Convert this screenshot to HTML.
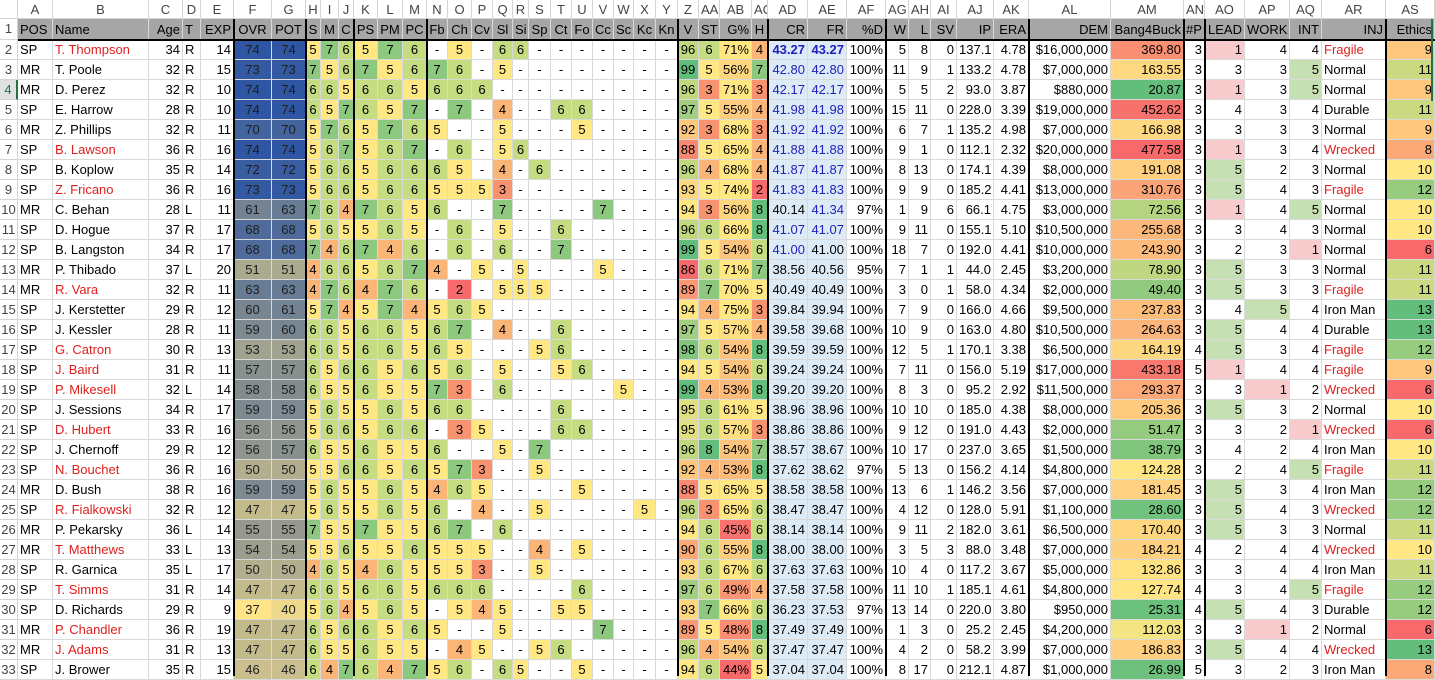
<!DOCTYPE html>
<html><head><meta charset="utf-8">
<style>
body{margin:0;width:1435px;height:676px;overflow:hidden;background:#fff;font-family:"Liberation Sans",sans-serif;font-size:13px;color:#000;position:relative}
.c{position:absolute;box-sizing:border-box;height:20px;line-height:20px;border-right:1px solid #d9d9d9;border-bottom:1px solid #d9d9d9;padding:0 2px;white-space:nowrap;overflow:hidden}
.h{color:#444;text-align:center;background:#fff;border-color:#d4d4d4;height:19px;line-height:19px}
.rh{color:#444;text-align:center;background:#fff;border-color:#d4d4d4;padding:0}
.t{background:#a6a6a6}
.tk{position:absolute;background:#000}
</style></head><body>
<div id="grid"></div>
<script>
const POS=["SP","MR","MR","SP","MR","SP","SP","SP","MR","SP","SP","MR","MR","SP","SP","SP","SP","SP","SP","SP","SP","SP","MR","SP","MR","MR","SP","SP","SP","MR","MR","SP"];
const NAMES=["T. Thompson","T. Poole","D. Perez","E. Harrow","Z. Phillips","B. Lawson","B. Koplow","Z. Fricano","C. Behan","D. Hogue","B. Langston","P. Thibado","R. Vara","J. Kerstetter","J. Kessler","G. Catron","J. Baird","P. Mikesell","J. Sessions","D. Hubert","J. Chernoff","N. Bouchet","D. Bush","R. Fialkowski","P. Pekarsky","T. Matthews","R. Garnica","T. Simms","D. Richards","P. Chandler","J. Adams","J. Brower"];
const RED=[1,0,0,0,0,1,0,1,0,0,0,0,1,0,0,1,1,1,0,1,0,1,0,1,0,1,0,1,0,1,1,0];
const AGE=[34,32,32,28,32,36,35,36,28,37,34,37,32,29,28,30,31,32,34,33,29,36,38,32,36,33,35,31,29,36,31,35];
const THR=["R","R","R","R","R","R","R","R","L","R","R","L","R","R","R","R","R","L","R","R","R","R","R","R","L","L","L","R","R","R","R","R"];
const EXP=[14,15,10,10,11,16,14,16,11,17,17,20,11,12,11,13,11,14,17,16,12,16,16,12,14,13,17,14,9,19,13,15];
const OVR=[74,73,74,74,70,74,72,73,61,68,68,51,63,60,59,53,57,58,59,56,56,50,59,47,55,54,50,47,37,47,47,46];
const POT=[74,73,74,74,70,74,72,73,63,68,68,51,63,61,60,53,57,58,59,56,57,50,59,47,55,54,50,47,40,47,47,46];
const RATINGS=["576576","756756","665665","657657","576576","567567","566566","566566","764765","565565","746746","466567","476476","574574","665665","665665","656656","655655","565565","566566","655655","556656","565565","565565","755755","556556","465465","665665","564565","656656","655655","647647"];
const PITCHES=["-5-66-------","76-5--------","666---------","-7-4--66----","5--5---5----","-6-56-------","65-4-6------","5553--------","6--7----7---","-6-5--6-----","-6-6--7-----","4-5-5---5---","-2-555------","565---------","67-4--6-----","65---56-----","56-5--56----","73-6-----5--","66----6-----","-35---66----","6--5-7------","573--5------","465----5----","6-4--5----5-","67-6--------","555--4-5----","553--5------","666----6----","-545--55----","5--5----7---","-45--56-----","56-65--5----"];
const VEL=[96,99,96,97,92,88,96,93,94,96,99,86,89,94,97,98,94,99,95,95,96,92,88,96,94,90,93,97,93,89,96,94];
const ST=[6,5,3,5,3,5,4,5,3,6,5,6,7,4,5,6,5,4,6,6,8,4,5,3,6,6,6,6,7,5,4,6];
const GPCT=[71,56,71,55,68,65,68,74,56,66,54,71,70,75,57,54,54,53,61,57,54,53,65,65,45,55,67,49,66,48,54,44];
const HLD=[4,7,3,4,3,4,4,2,8,8,6,7,5,3,4,8,6,8,5,3,7,8,5,6,6,8,6,4,6,8,6,5];
const CR=[43.27,42.80,42.17,41.98,41.92,41.88,41.87,41.83,40.14,41.07,41.00,38.56,40.49,39.84,39.58,39.59,39.24,39.20,38.96,38.86,38.57,37.62,38.58,38.47,38.14,38.00,37.63,37.58,36.23,37.49,37.47,37.04];
const FR=[43.27,42.80,42.17,41.98,41.92,41.88,41.87,41.83,41.34,41.07,41.00,40.56,40.49,39.94,39.68,39.59,39.24,39.20,38.96,38.86,38.67,38.62,38.58,38.47,38.14,38.00,37.63,37.58,37.53,37.49,37.47,37.04];
const CR_BLUE=[1,1,1,1,1,1,1,1,0,1,1];
const FR_BLUE=[1,1,1,1,1,1,1,1,1,1,0];
const PD=[100,100,100,100,100,100,100,100,97,100,100,95,100,100,100,100,100,100,100,100,100,97,100,100,100,100,100,100,97,100,100,100];
const W=[5,11,5,15,6,9,8,9,1,9,18,7,3,7,10,12,7,8,10,9,10,5,13,4,9,3,10,11,13,1,4,8];
const L=[8,9,5,11,7,1,13,9,9,11,7,1,0,9,9,5,11,3,10,12,17,13,6,12,11,5,4,10,14,3,2,17];
const SV=[0,1,2,0,1,0,0,0,6,0,0,1,1,0,0,1,0,0,0,0,0,0,1,0,2,3,0,1,0,0,0,0];
const IP=["137.1","133.2","93.0","228.0","135.2","112.1","174.1","185.2","66.1","155.1","192.0","44.0","58.0","166.0","163.0","170.1","156.0","95.2","185.0","191.0","237.0","156.2","146.2","128.0","182.0","88.0","117.2","185.1","220.0","25.2","58.2","212.1"];
const ERA=["4.78","4.78","3.87","3.39","4.98","2.32","4.39","4.41","4.75","5.10","4.41","2.45","4.34","4.66","4.80","3.38","5.19","2.92","4.38","4.43","3.65","4.14","3.56","5.91","3.61","3.48","3.67","4.61","3.80","2.45","3.99","4.87"];
const DEM=["$16,000,000","$7,000,000","$880,000","$19,000,000","$7,000,000","$20,000,000","$8,000,000","$13,000,000","$3,000,000","$10,500,000","$10,000,000","$3,200,000","$2,000,000","$9,500,000","$10,500,000","$6,500,000","$17,000,000","$11,500,000","$8,000,000","$2,000,000","$1,500,000","$4,800,000","$7,000,000","$1,100,000","$6,500,000","$7,000,000","$5,000,000","$4,800,000","$950,000","$4,200,000","$7,000,000","$1,000,000"];
const B4B=[369.80,163.55,20.87,452.62,166.98,477.58,191.08,310.76,72.56,255.68,243.90,78.90,49.40,237.83,264.63,164.19,433.18,293.37,205.36,51.47,38.79,124.28,181.45,28.60,170.40,184.21,132.86,127.74,25.31,112.03,186.83,26.99];
const NP=[3,3,3,3,3,3,3,3,3,3,3,3,3,3,3,4,5,3,3,3,3,3,3,3,3,4,3,4,4,3,3,5];
const LEAD=[1,3,1,4,3,1,5,5,1,3,2,5,5,4,5,5,1,3,5,3,4,2,5,5,5,2,3,3,5,3,5,3];
const WORK=[4,3,3,3,3,3,2,4,4,4,3,3,3,5,4,3,4,1,3,2,2,4,3,4,3,4,4,4,4,1,4,2];
const INT=[4,5,5,4,3,4,3,3,5,3,1,3,3,4,4,4,4,2,2,1,4,5,4,3,3,4,4,5,3,2,4,3];
const INJ=["Fragile","Normal","Normal","Durable","Normal","Wrecked","Normal","Fragile","Normal","Normal","Normal","Normal","Fragile","Iron Man","Durable","Fragile","Fragile","Wrecked","Normal","Wrecked","Iron Man","Fragile","Iron Man","Wrecked","Normal","Wrecked","Iron Man","Fragile","Durable","Normal","Wrecked","Iron Man"];
const ETH=[9,11,9,11,9,8,10,12,10,10,6,11,11,13,13,12,9,6,10,6,10,11,12,12,11,10,11,12,12,6,13,8];
const LETTERS=["A","B","C","D","E","F","G","H","I","J","K","L","M","N","O","P","Q","R","S","T","U","V","W","X","Y","Z","AA","AB","AC","AD","AE","AF","AG","AH","AI","AJ","AK","AL","AM","AN","AO","AP","AQ","AR","AS"];
const HEAD=["POS","Name","Age","T","EXP","OVR","POT","S","M","C","PS","PM","PC","Fb","Ch","Cv","Sl","Si","Sp","Ct","Fo","Cc","Sc","Kc","Kn","V","ST","G%","H","CR","FR","%D","W","L","SV","IP","ERA","DEM","Bang4Buck","#P","LEAD","WORK","INT","INJ","Ethics"];

const XS=[0,18,53,149,183,201,234,272,306,321,339,354,378,403,427,448,472,493,513,529,551,572,593,614,634,656,678,699,720,752,768,808,847,886,909,931,957,994,1029,1111,1184,1205,1245,1290,1322,1386,1435];

function alignFor(c){
  if(c===1||c===2||c===4||c===44) return 'left';
  if(c>=6&&c<=27) return 'center';
  if(c===29) return 'center';
  return 'right';
}
function hex(c){return [parseInt(c.substr(1,2),16),parseInt(c.substr(3,2),16),parseInt(c.substr(5,2),16)];}
function mix(a,b,t){a=hex(a);b=hex(b);t=Math.max(0,Math.min(1,t));return "rgb("+a.map((v,i)=>Math.round(v+(b[i]-v)*t)).join(",")+")";}
function scale3(v,lo,mid,hi,c1,c2,c3){return v<=mid?mix(c1,c2,(v-lo)/(mid-lo)):mix(c2,c3,(v-mid)/(hi-mid));}
const RC={2:"#f8696b",3:"#f8926f",4:"#fbb577",5:"#ffe884",6:"#c6dc81",7:"#8cc97e",8:"#63be7b"};
const RED_C="#f8696b",YEL="#ffe884",GRN="#63be7b";

const grid=document.getElementById('grid');
function cell(x,y,w,txt,cls){const d=document.createElement('div');d.className='c '+(cls||'');d.style.left=x+'px';d.style.top=y+'px';d.style.width=w+'px';d.textContent=txt;grid.appendChild(d);return d;}

let corner=cell(0,0,18,"","h");


for(let c=1;c<=45;c++){
  const d=cell(XS[c],0,XS[c+1]-XS[c],LETTERS[c-1],"h");
  
  
}
for(let r=1;r<=33;r++){
  const y=r===1?19:40+(r-2)*20;
  const d=cell(0,y,18,String(r),"rh");
  if(r===1){d.style.height='21px';}
  if(r===4){d.style.color='#217346';d.style.borderRight='2px solid #217346';d.style.background='#e1e1e1';}
  
  
}
for(let c=1;c<=45;c++){
  const d=cell(XS[c],19,XS[c+1]-XS[c],HEAD[c-1],"t");
  d.style.height='21px';d.style.lineHeight='21px';
  let al=alignFor(c);
  if(c===44) al='right';
  if(c===40) al='left';
  d.style.textAlign=al;
  
  
}
for(let i=0;i<32;i++){
  const y=40+i*20;
  const vals=[POS[i],NAMES[i],AGE[i],THR[i],EXP[i],OVR[i],POT[i]];
  for(let k=0;k<6;k++) vals.push(RATINGS[i][k]);
  for(let k=0;k<12;k++) vals.push(PITCHES[i][k]);
  vals.push(VEL[i],ST[i],GPCT[i]+"%",HLD[i],CR[i].toFixed(2),FR[i].toFixed(2),PD[i]+"%",W[i],L[i],SV[i],IP[i],ERA[i],DEM[i],B4B[i].toFixed(2),NP[i],LEAD[i],WORK[i],INT[i],INJ[i],ETH[i]);
  for(let c=1;c<=45;c++){
    const v=vals[c-1];
    const d=cell(XS[c],y,XS[c+1]-XS[c],String(v));
    d.style.textAlign=alignFor(c);
    let bg=null,fg=null;
    if(c===2&&RED[i]) fg='#e0201e';
    if(c===6||c===7){bg=scale3(v,37,58,74,"#ffe48a","#838d90","#2e56a3");fg='#1e1e1e';}
    if(c>=8&&c<=25&&v!=='-') bg=RC[+v];
    if(c===26) bg=scale3(v,86,94,99,RED_C,YEL,GRN);
    if(c===27||c===29) bg=RC[v];
    if(c===28) bg=mix(RED_C,YEL,(GPCT[i]-44)/14);
    if(c===30||c===31){bg='#ddebf7';
      const blue=c===30?CR_BLUE[i]:FR_BLUE[i];
      if(blue) fg='#1f1fbf';
      if(i===0) d.style.fontWeight='bold';}
    if(c===39) bg=scale3(v,20,120,477,GRN,YEL,RED_C);
    if(c>=41&&c<=43){ if(+v===1) bg='#f8cbcd'; if(+v===5) bg='#c6e0b4'; }
    if(c===44){ if(v==='Fragile'||v==='Wrecked') fg='#e0201e'; }
    if(c===45) bg=scale3(v,6,10,13,RED_C,YEL,GRN);
    if(bg) d.style.background=bg;
    if(fg) d.style.color=fg;
    
    
  }
}
const THICK=[6,8,11,14,26,30,33,38,40,41,45];
for(const c of THICK){
  const t=document.createElement('div');t.className='tk';
  t.style.left=(XS[c]-1)+'px';t.style.top='19px';t.style.width='2px';t.style.height='657px';
  
  
  grid.appendChild(t);
}
const hb=document.createElement('div');hb.className='tk';
hb.style.left='18px';hb.style.top='39px';hb.style.width='1417px';hb.style.height='2px';


grid.appendChild(hb);
const sel=document.createElement('div');
sel.style.cssText='position:absolute;left:1431px;top:19px;width:2px;height:82px;background:#217346';


grid.appendChild(sel);
</script>
</body></html>
